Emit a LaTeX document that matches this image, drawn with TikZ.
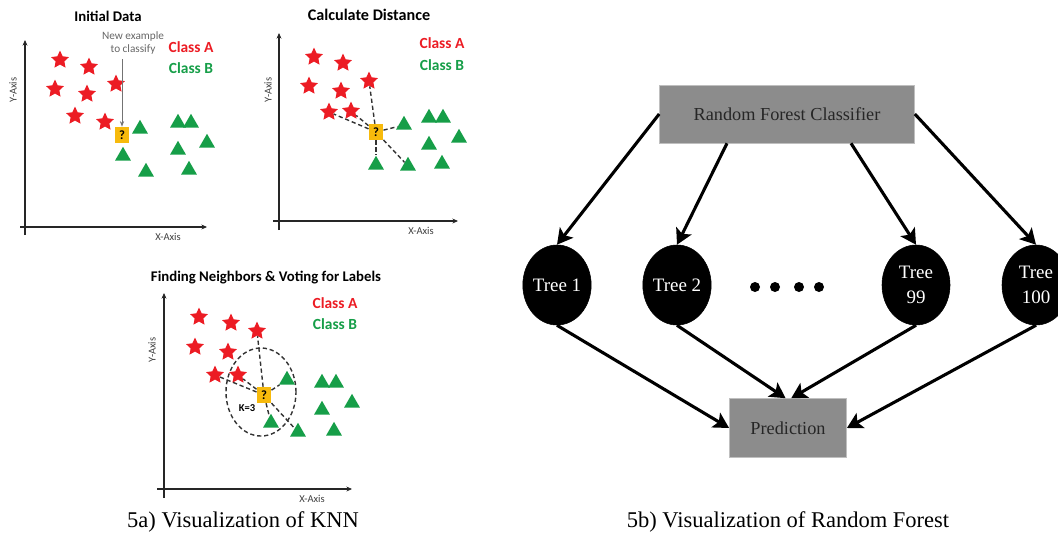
\documentclass[tikz,border=0pt]{standalone}
\usepackage{fontspec}
\setmainfont{Liberation Serif}
\newfontfamily\calibri{Carlito}
\usepackage{tikz}
\usetikzlibrary{arrows.meta,shapes.geometric}

\definecolor{classred}{RGB}{236,28,36}
\definecolor{classgreen}{RGB}{22,158,72}
\definecolor{queryorange}{RGB}{247,186,12}
\definecolor{boxgray}{RGB}{140,140,140}

\begin{document}
\begin{tikzpicture}[x=0.025cm,y=-0.025cm]
            \tikzset{redstar/.style = {shape=star, star points=5, star point ratio=2.05, fill=classred, inner sep=0pt, minimum size=0.47cm}}
            \tikzset{greentri/.style = {shape=regular polygon, regular polygon sides=3, fill=classgreen, inner sep=0pt, minimum size=0.46cm}}
            \tikzset{query/.style = {shape=rectangle, fill=queryorange, inner sep=0pt, minimum width=0.36cm, minimum height=0.4cm, font=\calibri\bfseries\fontsize{9}{9}\selectfont}}
            \tikzset{title/.style = {font=\calibri\bfseries\fontsize{10.5}{12}\selectfont}}
            \tikzset{classa/.style = {text=classred, font=\calibri\bfseries\fontsize{11}{12}\selectfont}}
            \tikzset{classb/.style = {text=classgreen, font=\calibri\bfseries\fontsize{11}{12}\selectfont}}
            \tikzset{axislabel/.style = {text=black!75, font=\calibri\fontsize{7.5}{8}\selectfont}}
            \tikzset{axis/.style = {draw=black!85, line width=0.9pt, -{Stealth[length=4pt,width=3.5pt]}}}
            \tikzset{dist/.style = {draw=black!80, line width=1pt, dash pattern=on 3pt off 2pt}}
            \tikzset{tree/.style = {shape=ellipse, draw, fill=black, text=white, inner sep=0pt, minimum width=1.7cm, minimum height=2cm, align=center, font=\fontsize{13.5}{17.5}\selectfont}}
            \tikzset{gbox/.style = {shape=rectangle, fill=boxgray, draw=black!25, text=black!85, font=\fontsize{13}{15}\selectfont}}
            \tikzset{flow/.style = {draw=black, line width=2.2pt, -{Stealth[length=11pt,width=12pt,inset=2.5pt]}}}
            \tikzset{caption/.style = {font=\fontsize{16}{18}\selectfont}}
            \clip (0,0) rectangle (1058,535);
            % panel 1: initial data
            \coordinate (p1yb) at (25,235);
            \coordinate (p1yt) at (25,40);
            \coordinate (p1xl) at (20,227);
            \coordinate (p1xr) at (207,227);
            \draw[axis] (p1yb) -- (p1yt);
            \draw[axis] (p1xl) -- (p1xr);
            \node[title] (p1title) at (108,16) {Initial Data};
            \node[axislabel, rotate=90] (p1ylab) at (13,90) {Y-Axis};
            \node[axislabel] (p1xlab) at (168,237) {X-Axis};
            \node[classa] (p1a) at (191,47) {Class A};
            \node[classb] (p1b) at (191,68) {Class B};
            \foreach \x/\y [count=\i] in {60/60, 89/67, 55/89, 87/94, 116/84, 75/116, 105/122}
                \node[redstar] (p1s\i) at (\x,\y) {};
            \foreach \x/\y [count=\i] in {140/129, 123/156, 146/172, 178/123, 191/123, 207/143, 178/150, 189/170}
                \node[greentri] (p1t\i) at (\x,\y) {};
            \node[query] (p1q) at (122,135) {?};
            \node[text=black!60, align=center, font=\calibri\fontsize{8}{9.5}\selectfont] (p1note) at (133,43) {New example\\to classify};
            \draw[draw=black!55, line width=0.6pt, -{Stealth[length=4pt,width=3pt]}] (p1note.south -| p1q) -- (p1q);
            % panel 2: calculate distance
            \coordinate (p2yb) at (279,230);
            \coordinate (p2yt) at (279,33);
            \coordinate (p2xl) at (273,221);
            \coordinate (p2xr) at (458,221);
            \draw[axis] (p2yb) -- (p2yt);
            \draw[axis] (p2xl) -- (p2xr);
            \node[title, font=\calibri\bfseries\fontsize{11.5}{13}\selectfont] (p2title) at (369,15) {Calculate Distance};
            \node[axislabel, rotate=90] (p2ylab) at (268,90) {Y-Axis};
            \node[axislabel] (p2xlab) at (421,231) {X-Axis};
            \node[classa] (p2a) at (442,43) {Class A};
            \node[classb] (p2b) at (442,65) {Class B};
            \foreach \x/\y [count=\i] in {314/57, 343/63, 309/86, 341/91, 369/81, 329/112, 351/111}
                \node[redstar] (p2s\i) at (\x,\y) {};
            \foreach \x/\y [count=\i] in {404/125, 376/165, 408/166, 429/118, 443/118, 459/138, 429/145, 442/164}
                \node[greentri] (p2t\i) at (\x,\y) {};
            \node[query] (p2q) at (376,132) {?};
            \foreach \n in {p2s5, p2s6, p2s7, p2t1, p2t2, p2t3}
                \draw[dist] (p2q) -- (\n);
            % panel 3: neighbours and voting
            \coordinate (p3yb) at (164,498);
            \coordinate (p3yt) at (164,293);
            \coordinate (p3xl) at (157,489);
            \coordinate (p3xr) at (352,489);
            \draw[axis] (p3yb) -- (p3yt);
            \draw[axis] (p3xl) -- (p3xr);
            \node[title] (p3title) at (266,278) {Finding Neighbors \& Voting for Labels};
            \node[axislabel, rotate=90] (p3ylab) at (152,350) {Y-Axis};
            \node[axislabel] (p3xlab) at (312,499) {X-Axis};
            \node[classa] (p3a) at (335,303) {Class A};
            \node[classb] (p3b) at (335,324) {Class B};
            \node[dist, shape=ellipse, minimum width=1.75cm, minimum height=2.2cm] (p3k) at (261,392) {};
            \foreach \x/\y [count=\i] in {199/317, 231/323, 195/347, 228/352, 257/331, 215/375, 238/375}
                \node[redstar] (p3s\i) at (\x,\y) {};
            \foreach \x/\y [count=\i] in {287/380, 271/423, 298/432, 322/383, 336/383, 352/403, 322/410, 334/431}
                \node[greentri] (p3t\i) at (\x,\y) {};
            \node[query] (p3q) at (264,395) {?};
            \foreach \n in {p3s5, p3s6, p3s7, p3t1, p3t2, p3t3}
                \draw[dist] (p3q) -- (\n);
            \node[font=\calibri\bfseries\fontsize{7.5}{8}\selectfont] (p3klab) at (247,408) {K=3};
            % random forest
            \node[gbox, minimum width=6.375cm, minimum height=1.45cm] (rfc) at (787,114) {Random Forest Classifier};
            \node[gbox, minimum width=2.93cm, minimum height=1.475cm] (pred) at (788,428) {Prediction};
            \node[tree] (t1) at (557,285) {Tree 1};
            \node[tree] (t2) at (677,285) {Tree 2};
            \node[tree] (t99) at (916,285) {Tree\\99};
            \node[tree] (t100) at (1036,285) {Tree\\100};
            \foreach \x [count=\i] in {755, 775, 799, 819}
                \node[circle, fill=black, inner sep=0pt, minimum size=0.25cm] (dot\i) at (\x,287) {};
            % edges
            \draw[flow] (rfc.west) -- (t1.north);
            \draw[flow] ([xshift=-1.5cm]rfc.south) -- (t2.north);
            \draw[flow] ([xshift=1.6cm]rfc.south) -- (t99.north);
            \draw[flow] (rfc.east) -- (t100.north);
            \draw[flow] (t1.south) -- (pred.west);
            \draw[flow] (t2.south) -- ([xshift=-0.06cm]pred.north);
            \draw[flow] (t99.south) -- ([xshift=0.08cm]pred.north);
            \draw[flow] (t100.south) -- (pred.east);
            % captions
            \node[caption] (capa) at (243,522) {5a) Visualization of KNN};
            \node[caption] (capb) at (788,522) {5b) Visualization of Random Forest};
        \end{tikzpicture}
\end{document}
